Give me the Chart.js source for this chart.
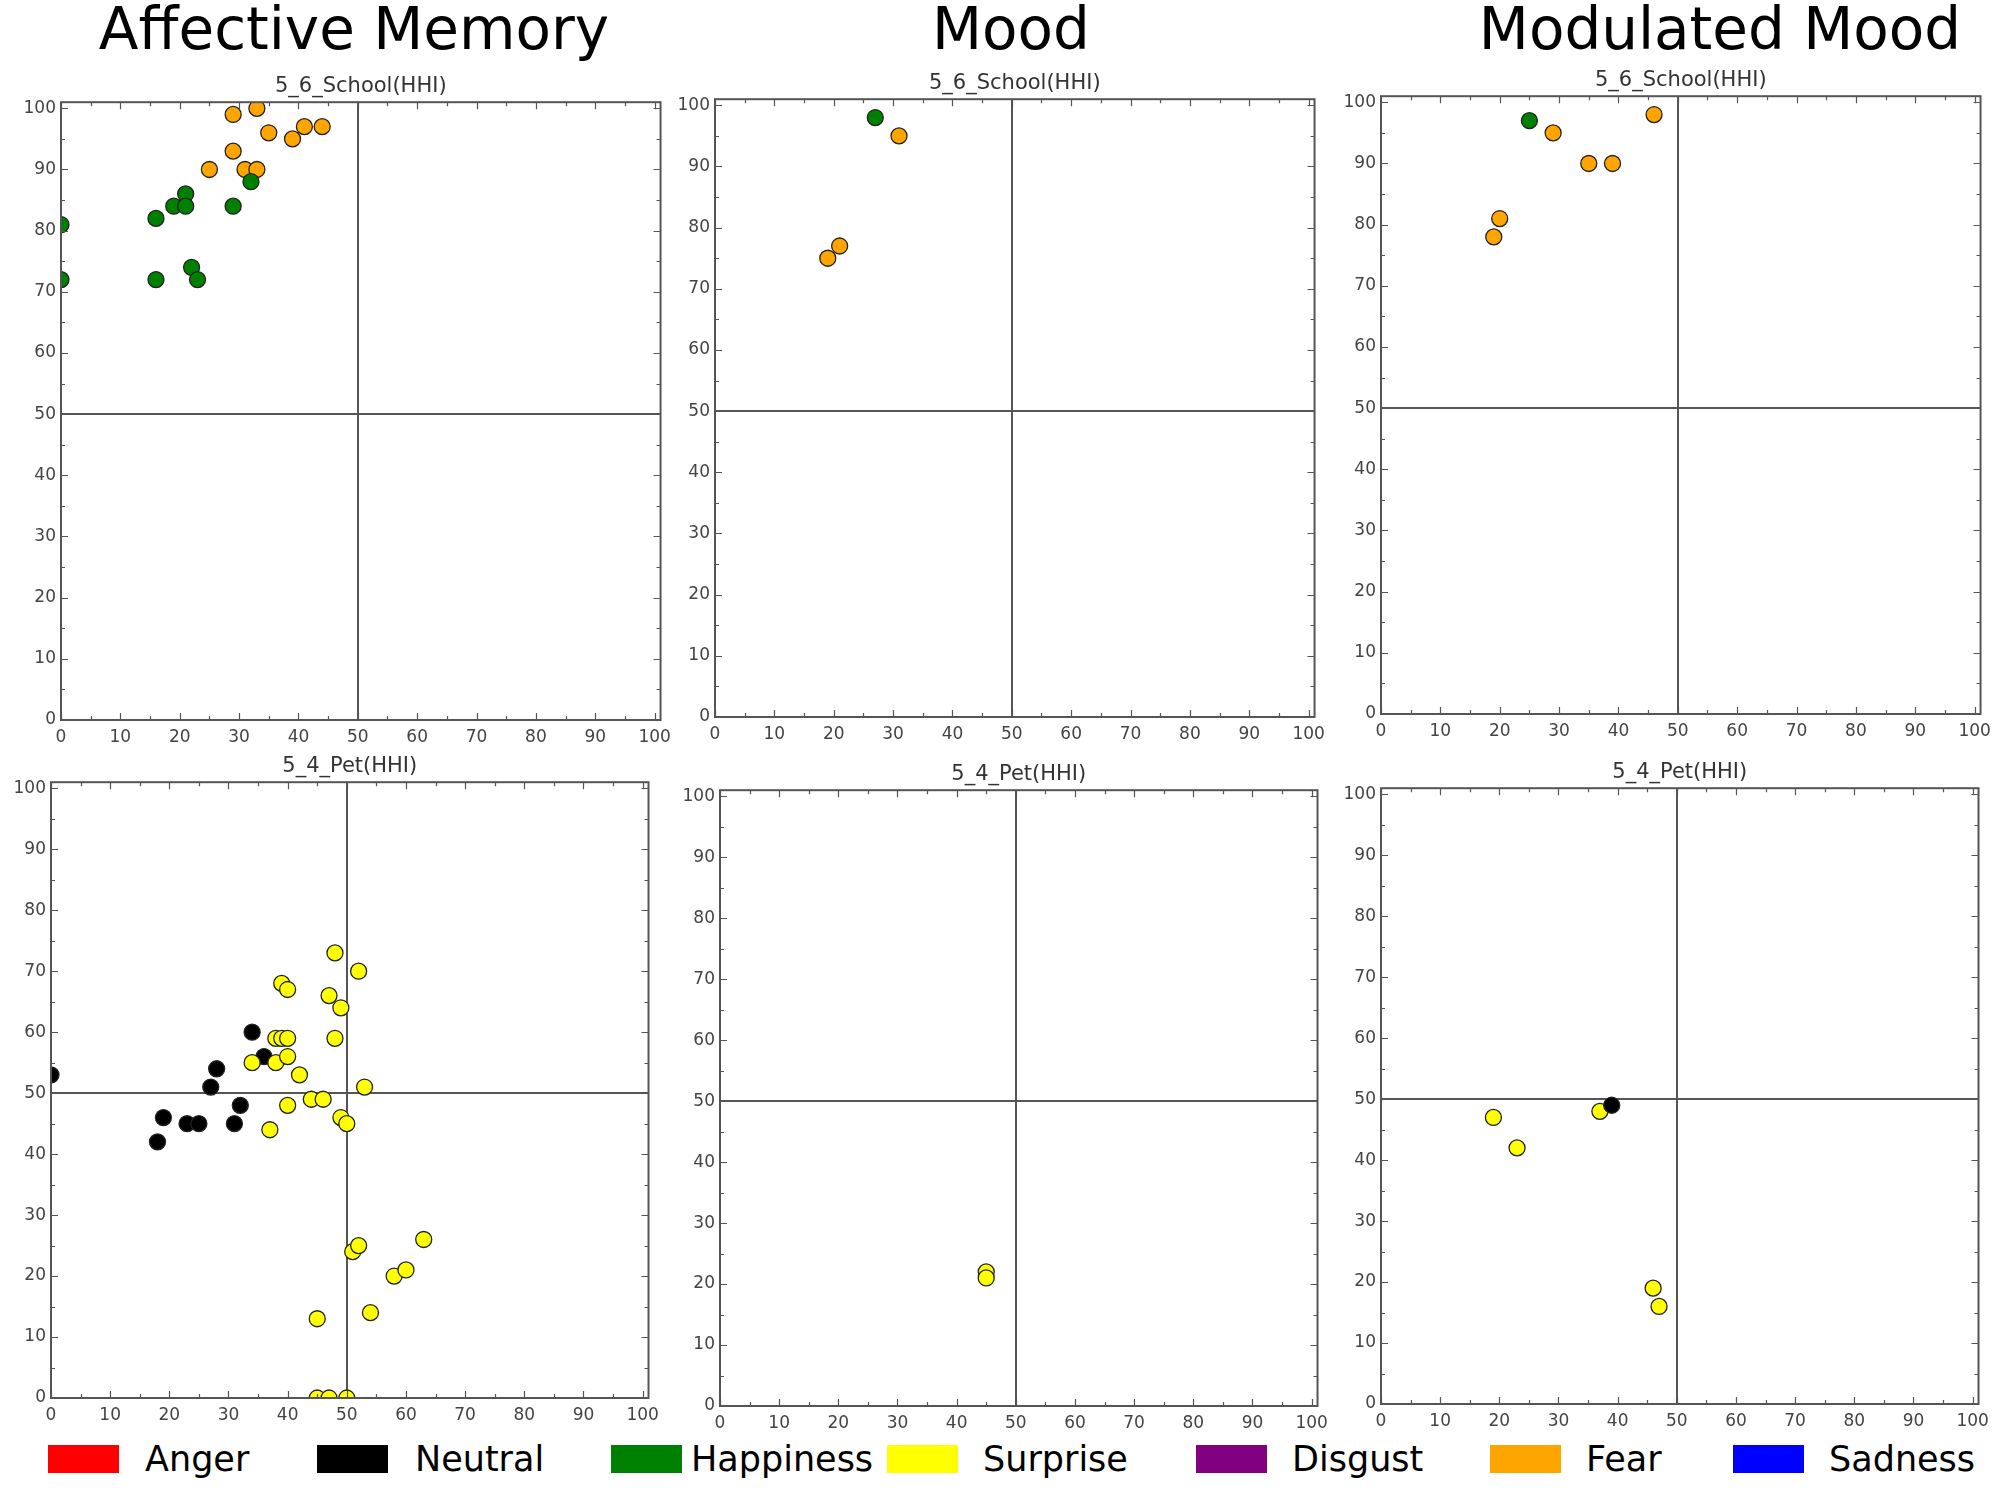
<!DOCTYPE html>
<html>
<head>
<meta charset="utf-8">
<script src="https://cdn.jsdelivr.net/npm/chart.js@4.4.1/dist/chart.umd.min.js"></script>
<style>
  body { margin: 0; background: #fff; width: 1995px; height: 1500px; position: relative; overflow: hidden; font-family: "DejaVu Sans", sans-serif; }
  .col-title { position: absolute; top: 0px; font-size: 58px; line-height: 1; transform: translateX(-50%); white-space: nowrap; color: #000; }
  canvas { position: absolute; }
  .lg-box { position: absolute; top: 1445px; width: 71px; height: 28px; }
  .lg-text { position: absolute; top: 1442px; font-size: 35px; line-height: 1; color: #000; white-space: nowrap; }
</style>
</head>
<body>
<script>
// ===== Data =====
const EMOTIONS = ['Anger', 'Neutral', 'Happiness', 'Surprise', 'Disgust', 'Fear', 'Sadness'];
const EMOTION_COLORS = ['#ff0000', '#000000', '#008000', '#ffff00', '#800080', '#ffa500', '#0000ff'];
const COLUMN_TITLES = ['Affective Memory', 'Mood', 'Modulated Mood'];
const SUBPLOT_TITLES = ['5_6_School(HHI)', '5_4_Pet(HHI)'];
const AXIS_TICKS = [0, 10, 20, 30, 40, 50, 60, 70, 80, 90, 100];

// 5_6_School, Affective Memory
const schoolMemoryHappiness = [[0, 81], [0, 72], [16, 82], [16, 72], [19, 84], [21, 86], [21, 84], [22, 74], [23, 72], [29, 84], [32, 88]];
const schoolMemoryFear = [[29, 99], [33, 100], [35, 96], [39, 95], [41, 97], [44, 97], [29, 93], [25, 90], [31, 90], [33, 90]];
// 5_6_School, Mood
const schoolMoodHappiness = [[27, 98]];
const schoolMoodFear = [[31, 95], [19, 75], [21, 77]];
// 5_6_School, Modulated Mood
const schoolModHappiness = [[25, 97]];
const schoolModFear = [[29, 95], [35, 90], [39, 90], [46, 98], [19, 78], [20, 81]];
// 5_4_Pet, Affective Memory
const petMemoryNeutral = [[0, 53], [18, 42], [19, 46], [23, 45], [25, 45], [27, 51], [28, 54], [31, 45], [32, 48], [34, 60], [36, 56]];
const petMemorySurprise = [[34, 55], [37, 44], [38, 59], [38, 55], [39, 68], [40, 67], [39, 59], [40, 59], [40, 56], [40, 48],
  [42, 53], [44, 49], [46, 49], [47, 66], [48, 73], [48, 59], [49, 64], [49, 46], [50, 45], [52, 70], [53, 51],
  [45, 13], [45, 0], [47, 0], [50, 0], [51, 24], [52, 25], [54, 14], [58, 20], [60, 21], [63, 26]];
// 5_4_Pet, Mood
const petMoodSurprise = [[45, 22], [45, 21]];
// 5_4_Pet, Modulated Mood
const petModNeutral = [[39, 49]];
const petModSurprise = [[19, 47], [23, 42], [37, 48], [46, 19], [47, 16]];

// ===== Layout (plot frame position in page pixels) =====
const PANELS = [
  { title: 0, left: 61, top: 102, w: 601, h: 618, sets: [[2, schoolMemoryHappiness], [5, schoolMemoryFear]] },
  { title: 0, left: 715, top: 99, w: 601, h: 618, sets: [[2, schoolMoodHappiness], [5, schoolMoodFear]] },
  { title: 0, left: 1381, top: 96, w: 601, h: 618, sets: [[2, schoolModHappiness], [5, schoolModFear]] },
  { title: 1, left: 51, top: 782, w: 599, h: 616, sets: [[3, petMemorySurprise], [1, petMemoryNeutral]] },
  { title: 1, left: 720, top: 790, w: 599, h: 616, sets: [[3, petMoodSurprise]] },
  { title: 1, left: 1381, top: 788, w: 599, h: 616, sets: [[1, petModNeutral], [3, petModSurprise]] }
];
const Y_AXIS_W = 50, X_AXIS_H = 32, TITLE_H = 31, PAD_R = 16;

// ===== Column titles and legend =====
[354, 1011, 1720].forEach((cx, i) => {
  const d = document.createElement('div');
  d.className = 'col-title';
  d.style.left = cx + 'px';
  d.textContent = COLUMN_TITLES[i];
  document.body.appendChild(d);
});

const LEGEND_POS = [[48, 145], [317, 415], [611, 691], [887, 983], [1196, 1292], [1490, 1586], [1733, 1829]];
EMOTIONS.forEach((name, i) => {
  const box = document.createElement('div');
  box.className = 'lg-box';
  box.style.left = LEGEND_POS[i][0] + 'px';
  box.style.background = EMOTION_COLORS[i];
  document.body.appendChild(box);
  const t = document.createElement('div');
  t.className = 'lg-text';
  t.style.left = LEGEND_POS[i][1] + 'px';
  t.textContent = name;
  document.body.appendChild(t);
});

// ===== Frame with inward ticks on all four sides =====
const frameTicks = {
  id: 'frameTicks',
  afterDatasetsDraw(chart) {
    const { ctx, chartArea: a, scales: { x, y } } = chart;
    ctx.save();
    ctx.strokeStyle = '#555';
    ctx.lineWidth = 1.2;
    ctx.beginPath();
    for (let v = 0; v <= 100; v += 5) {
      const len = v % 10 === 0 ? 7 : 4;
      const px = Math.round(x.getPixelForValue(v)) + 0.5;
      ctx.moveTo(px, a.bottom); ctx.lineTo(px, a.bottom - len);
      ctx.moveTo(px, a.top); ctx.lineTo(px, a.top + len);
      const py = Math.round(y.getPixelForValue(v)) + 0.5;
      ctx.moveTo(a.left, py); ctx.lineTo(a.left + len, py);
      ctx.moveTo(a.right, py); ctx.lineTo(a.right - len, py);
    }
    ctx.stroke();
    ctx.lineWidth = 2;
    ctx.strokeRect(a.left, a.top, a.width, a.height);
    ctx.restore();
  }
};

function axisOptions(isX) {
  return {
    type: 'linear',
    min: 0,
    max: 101,
    afterBuildTicks: s => { s.ticks = AXIS_TICKS.map(v => ({ value: v })); },
    afterFit: s => { if (isX) s.height = X_AXIS_H; else s.width = Y_AXIS_W; },
    border: { display: false },
    grid: {
      drawTicks: false,
      lineWidth: 2,
      color: c => (c.tick && c.tick.value === 50 ? '#555' : 'rgba(0,0,0,0)')
    },
    ticks: {
      padding: isX ? 7 : 5,
      color: '#444',
      font: { family: 'DejaVu Sans', size: 17 }
    }
  };
}

// ===== Create charts =====
PANELS.forEach(p => {
  const canvas = document.createElement('canvas');
  const cw = Y_AXIS_W + p.w + PAD_R;
  const ch = TITLE_H + p.h + X_AXIS_H;
  canvas.width = cw;
  canvas.height = ch;
  canvas.style.left = (p.left - Y_AXIS_W) + 'px';
  canvas.style.top = (p.top - TITLE_H) + 'px';
  canvas.style.width = cw + 'px';
  canvas.style.height = ch + 'px';
  document.body.appendChild(canvas);

  const datasets = p.sets.map(([e, pts]) => ({
    label: EMOTIONS[e],
    data: pts.map(([x, y]) => ({ x, y })),
    backgroundColor: EMOTION_COLORS[e],
    borderColor: '#222',
    pointRadius: 8,
    pointBorderWidth: 1.3,
    clip: 0
  }));

  new Chart(canvas.getContext('2d'), {
    type: 'scatter',
    data: { datasets },
    options: {
      responsive: false,
      devicePixelRatio: 1,
      animation: false,
      events: [],
      layout: { padding: { top: 0, right: PAD_R, bottom: 0, left: 0 } },
      plugins: {
        legend: { display: false },
        tooltip: { enabled: false },
        title: {
          display: true,
          text: SUBPLOT_TITLES[p.title],
          fullSize: false,
          color: '#333',
          font: { family: 'DejaVu Sans', size: 21, weight: 'normal', lineHeight: 1.2 },
          padding: { top: 3, bottom: 3 }
        }
      },
      scales: { x: axisOptions(true), y: axisOptions(false) }
    },
    plugins: [frameTicks]
  });
});
</script>
</body>
</html>
